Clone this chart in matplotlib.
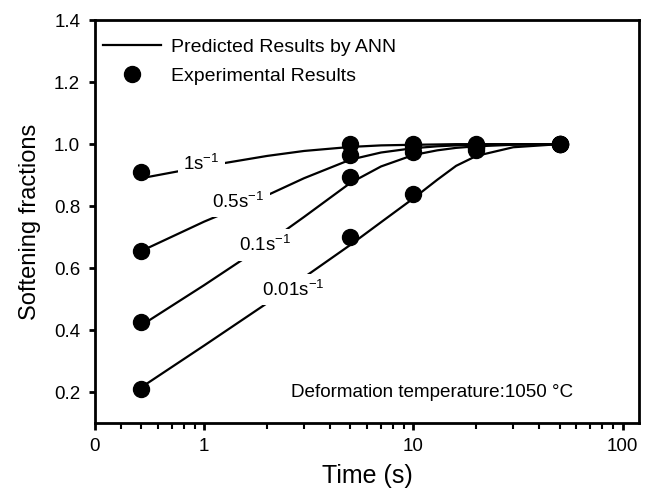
import matplotlib
matplotlib.use("Agg")
import matplotlib.pyplot as plt
from matplotlib.ticker import FixedLocator, NullFormatter

plt.rcParams['font.family'] = ['Liberation Sans', 'DejaVu Sans']
plt.rcParams['mathtext.default'] = 'regular'

# experimental points
t_exp = [0.5, 5, 10, 20, 50]
exp_1 = [0.91, 1.0, 1.0, 1.0, 1.0]
exp_05 = [0.655, 0.965, 0.995, 0.99, 1.0]
exp_01 = [0.425, 0.893, 0.975, 0.99, 1.0]
exp_001 = [0.21, 0.70, 0.84, 0.98, 1.0]

# ANN predicted curves
t_ann = [0.5, 1, 2, 3, 5, 7, 10, 13, 16, 20, 30, 50]
ann_1 = [0.89, 0.928, 0.962, 0.978, 0.991, 0.996, 0.998, 0.999, 1.0, 1.0, 1.0, 1.0]
ann_05 = [0.655, 0.75, 0.835, 0.89, 0.95, 0.973, 0.987, 0.993, 0.996, 0.998, 1.0, 1.0]
ann_01 = [0.415, 0.545, 0.68, 0.765, 0.875, 0.928, 0.965, 0.98, 0.988, 0.993, 0.998, 1.0]
ann_001 = [0.215, 0.35, 0.487, 0.57, 0.675, 0.748, 0.825, 0.885, 0.93, 0.962, 0.99, 1.0]

rate_labels = ['1s$^{-1}$', '0.5s$^{-1}$', '0.1s$^{-1}$', '0.01s$^{-1}$']
label_pos = [(0.97, 0.935), (1.45, 0.815), (1.95, 0.675), (2.65, 0.53)]

fig = plt.figure(figsize=(6.45, 4.93), dpi=100)
ax = fig.add_axes([0.147, 0.142, 0.844, 0.817])

for i, (ann, ex) in enumerate([(ann_1, exp_1), (ann_05, exp_05),
                               (ann_01, exp_01), (ann_001, exp_001)]):
    ax.plot(t_ann, ann, color='black', lw=1.6, zorder=2,
            label='Predicted Results by ANN' if i == 0 else None)
    ax.plot(t_exp, ex, 'o', color='black', ms=11.5, zorder=3,
            label='Experimental Results' if i == 0 else None)

for lab, (x, y) in zip(rate_labels, label_pos):
    ax.text(x, y, lab, fontsize=13.5, ha='center', va='center', zorder=4,
            bbox=dict(facecolor='white', edgecolor='none', pad=4))

ax.text(2.6, 0.2, 'Deformation temperature:1050 \u00b0C', fontsize=13.6,
        ha='left', va='center')

ax.set_xscale('log')
ax.set_xlim(0.3, 120)
ax.set_ylim(0.1, 1.4)
ax.xaxis.set_major_locator(FixedLocator([0.3, 1, 10, 100]))
ax.set_xticklabels(['0', '1', '10', '100'])
minors = [0.4, 0.5, 0.6, 0.7, 0.8, 0.9] + list(range(2, 10)) + list(range(20, 100, 10))
ax.xaxis.set_minor_locator(FixedLocator(minors))
ax.xaxis.set_minor_formatter(NullFormatter())
ax.set_yticks([0.2, 0.4, 0.6, 0.8, 1.0, 1.2, 1.4])
ax.set_yticklabels(['0.2', '0.4', '0.6', '0.8', '1.0', '1.2', '1.4'])

ax.tick_params(axis='y', which='major', direction='out', length=4.5, width=2,
               labelsize=13.5, pad=6)
ax.tick_params(axis='x', which='major', direction='out', length=5, width=2,
               labelsize=13.5, pad=6)
ax.tick_params(axis='x', which='minor', direction='out', length=4, width=1.5)
for s in ax.spines.values():
    s.set_linewidth(2)

ax.set_xlabel('Time (s)', fontsize=18, labelpad=6)
ax.set_ylabel('Softening fractions', fontsize=17, labelpad=9)

ax.legend(loc='upper left', bbox_to_anchor=(0, 0.975), frameon=False,
          fontsize=14, numpoints=1, handlelength=3.0, handletextpad=0.5,
          labelspacing=0.6, borderaxespad=0.2, borderpad=0.2)

plt.savefig('out.png', dpi=100)
